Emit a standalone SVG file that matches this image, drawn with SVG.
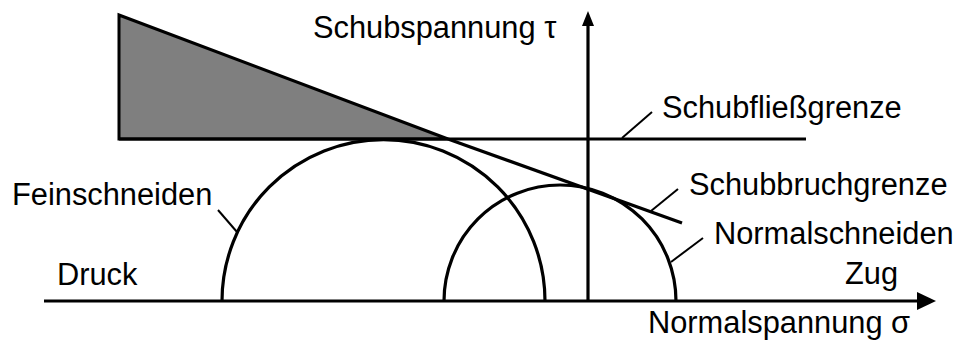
<svg xmlns="http://www.w3.org/2000/svg" width="960" height="343" viewBox="0 0 960 343">
<style>
.ln{fill:none;stroke:#000;stroke-width:3.2;stroke-linecap:butt}
.ld{fill:none;stroke:#000;stroke-width:2}
.t{font-family:"Liberation Sans",Arial,sans-serif;font-size:30.8px;fill:#000}
</style>
<rect width="960" height="343" fill="#fff"/>
<g id="shaded-region">
<polygon points="119,15 448,139 119,139" fill="#7f7f7f" stroke="#000" stroke-width="3" stroke-linejoin="miter"/>
</g>
<g id="axes">
<line class="ln" x1="44" y1="301" x2="920" y2="301"/>
<polygon points="936,301 917,292 917,310" fill="#000"/>
<line class="ln" x1="588" y1="301" x2="588" y2="24"/>
<polygon points="588,11 582,26 594,26" fill="#000"/>
</g>
<g id="schubfliessgrenze">
<line class="ln" x1="119" y1="139" x2="806" y2="139"/>
</g>
<g id="schubbruchgrenze">
<polyline class="ln" points="448,139 682,223"/>
</g>
<g id="feinschneiden">
<path class="ln" d="M222,301 A161.5,161.5 0 0 1 545,301"/>
</g>
<g id="normalschneiden">
<path class="ln" d="M444,301 A116,116 0 0 1 676,301"/>
</g>
<g id="connectors">
<line class="ld" x1="218" y1="210" x2="237" y2="232"/>
<line class="ld" x1="622" y1="138" x2="652" y2="112"/>
<line class="ld" x1="651" y1="211" x2="678" y2="189"/>
<line class="ld" x1="671" y1="262" x2="703" y2="238"/>
</g>
<g id="labels">
<text class="t" x="313" y="38">Schubspannung τ</text>
<text class="t" x="662" y="118">Schubfließgrenze</text>
<text class="t" x="689" y="195">Schubbruchgrenze</text>
<text class="t" x="714" y="244">Normalschneiden</text>
<text class="t" x="12" y="205">Feinschneiden</text>
<text class="t" x="57" y="285">Druck</text>
<text class="t" x="845" y="284">Zug</text>
<text class="t" x="648" y="333">Normalspannung σ</text>
</g>
</svg>
